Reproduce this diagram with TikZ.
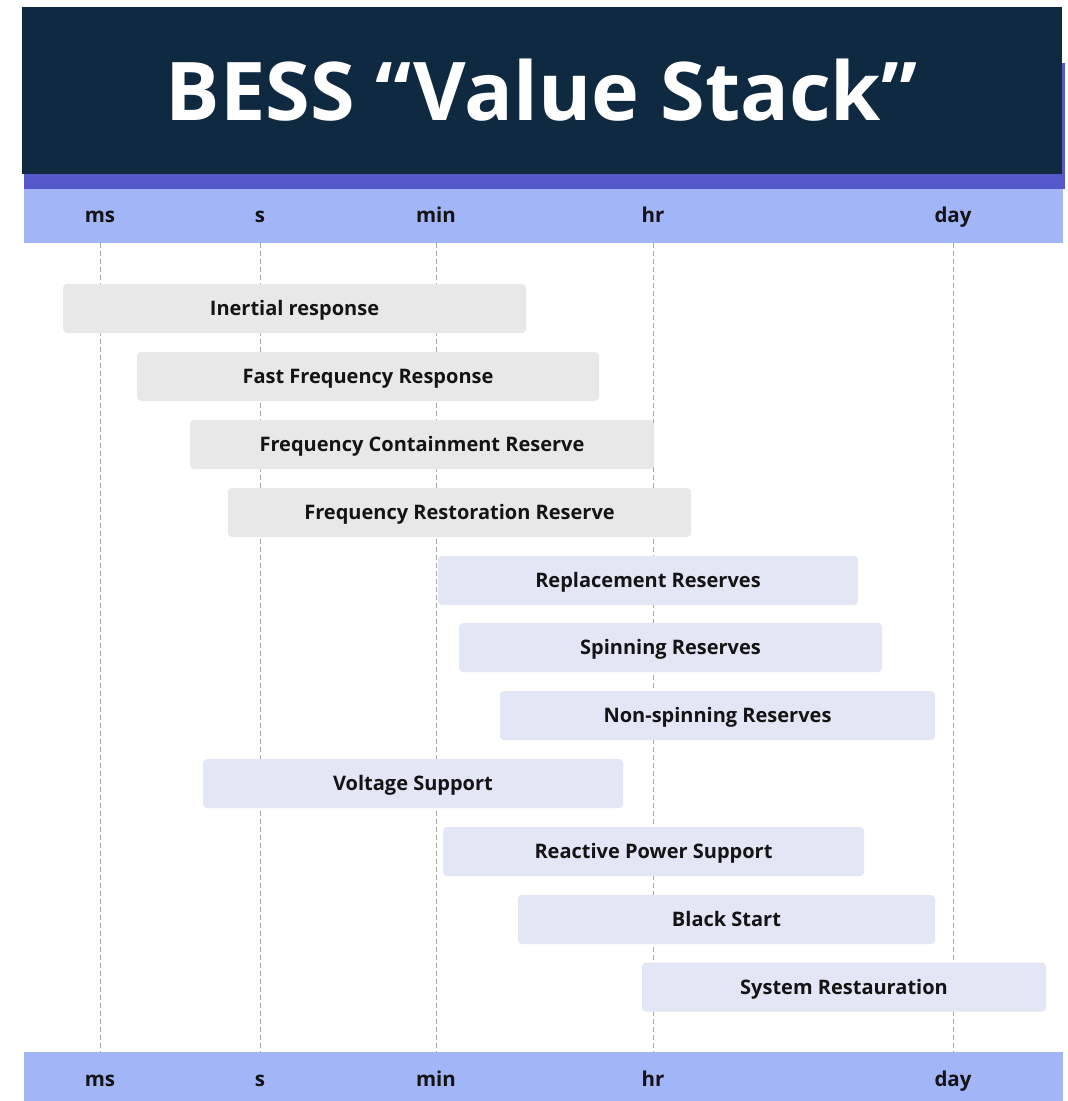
\documentclass[tikz,border=0pt]{standalone}
\usepackage{fontspec}
\setmainfont{Open Sans}
\definecolor{navy}{HTML}{0F2941}
\definecolor{stripe}{HTML}{5558C9}
\definecolor{band}{HTML}{A2B5F7}
\definecolor{greyfill}{HTML}{E8E8E8}
\definecolor{lavfill}{HTML}{E3E6F5}
\definecolor{ink}{HTML}{141414}
\definecolor{tickline}{HTML}{A5A5A5}
\tikzset{
  bar/.style={rounded corners=4pt, minimum height=49pt, inner sep=0pt,
    text height=14.3pt, text depth=0pt,
    font=\fontsize{20}{24}\selectfont\bfseries, text=ink},
  greybar/.style={bar, fill=greyfill},
  lavbar/.style={bar, fill=lavfill},
  ticklabel/.style={font=\fontsize{20.5}{24}\selectfont\bfseries, text=ink, inner sep=0pt},
  gridline/.style={draw=tickline, line width=1pt, dash pattern=on 5pt off 3pt}
}
\begin{document}
\begin{tikzpicture}[x=1pt, y=-1pt]
\useasboundingbox (0,0) rectangle (1068,1101);
\fill[white] (0,0) rectangle (1068,1101);

% header: accent stripe, title banner, top time band
\fill[stripe] (24,63) rectangle (1065,189);
\fill[navy] (22,7) rectangle (1062,174);
\node[text=white, font=\fontsize{81}{92}\selectfont\bfseries, inner sep=0pt] (title) at (541.5,90) {BESS “Value Stack”};
\fill[band] (24,189) rectangle (1063,243);

% bottom time band
\fill[band] (24,1052) rectangle (1063,1101);

% time scale labels
\foreach \name/\xx/\lab in {ms/100/ms, s/260/s, min/436/min, hr/653/hr, day/953/day}{
  \node[ticklabel, anchor=base] (\name-lab) at (\xx,222) {\lab};
  \node[ticklabel, anchor=base] (\name-blab) at (\xx,1086) {\lab};
  \coordinate (\name-top) at (\xx,243);
  \coordinate (\name-bot) at (\xx,1052);
  \draw[gridline] (\name-top) -- (\name-bot);
}

% services and their time ranges
\node[greybar, minimum width=463pt] (inertial) at (294.5,308.5) {Inertial response};
\node[greybar, minimum width=462pt] (ffr) at (368,376.5) {Fast Frequency Response};
\node[greybar, minimum width=464pt] (fcr) at (422,444.5) {Frequency Containment Reserve};
\node[greybar, minimum width=463pt] (frr) at (459.5,512.5) {Frequency Restoration Reserve};
\node[lavbar, minimum width=420pt] (rr) at (648,580.5) {Replacement Reserves};
\node[lavbar, minimum width=423pt] (spin) at (670.5,647.5) {Spinning Reserves};
\node[lavbar, minimum width=435pt] (nonspin) at (717.5,715.5) {Non-spinning Reserves};
\node[lavbar, minimum width=420pt] (volt) at (413,783.5) {Voltage Support};
\node[lavbar, minimum width=421pt] (reactive) at (653.5,851.5) {Reactive Power Support};
\node[lavbar, minimum width=417pt] (black) at (726.5,919.5) {Black Start};
\node[lavbar, minimum width=404pt] (restore) at (844,987) {System Restauration};
\end{tikzpicture}
\end{document}
